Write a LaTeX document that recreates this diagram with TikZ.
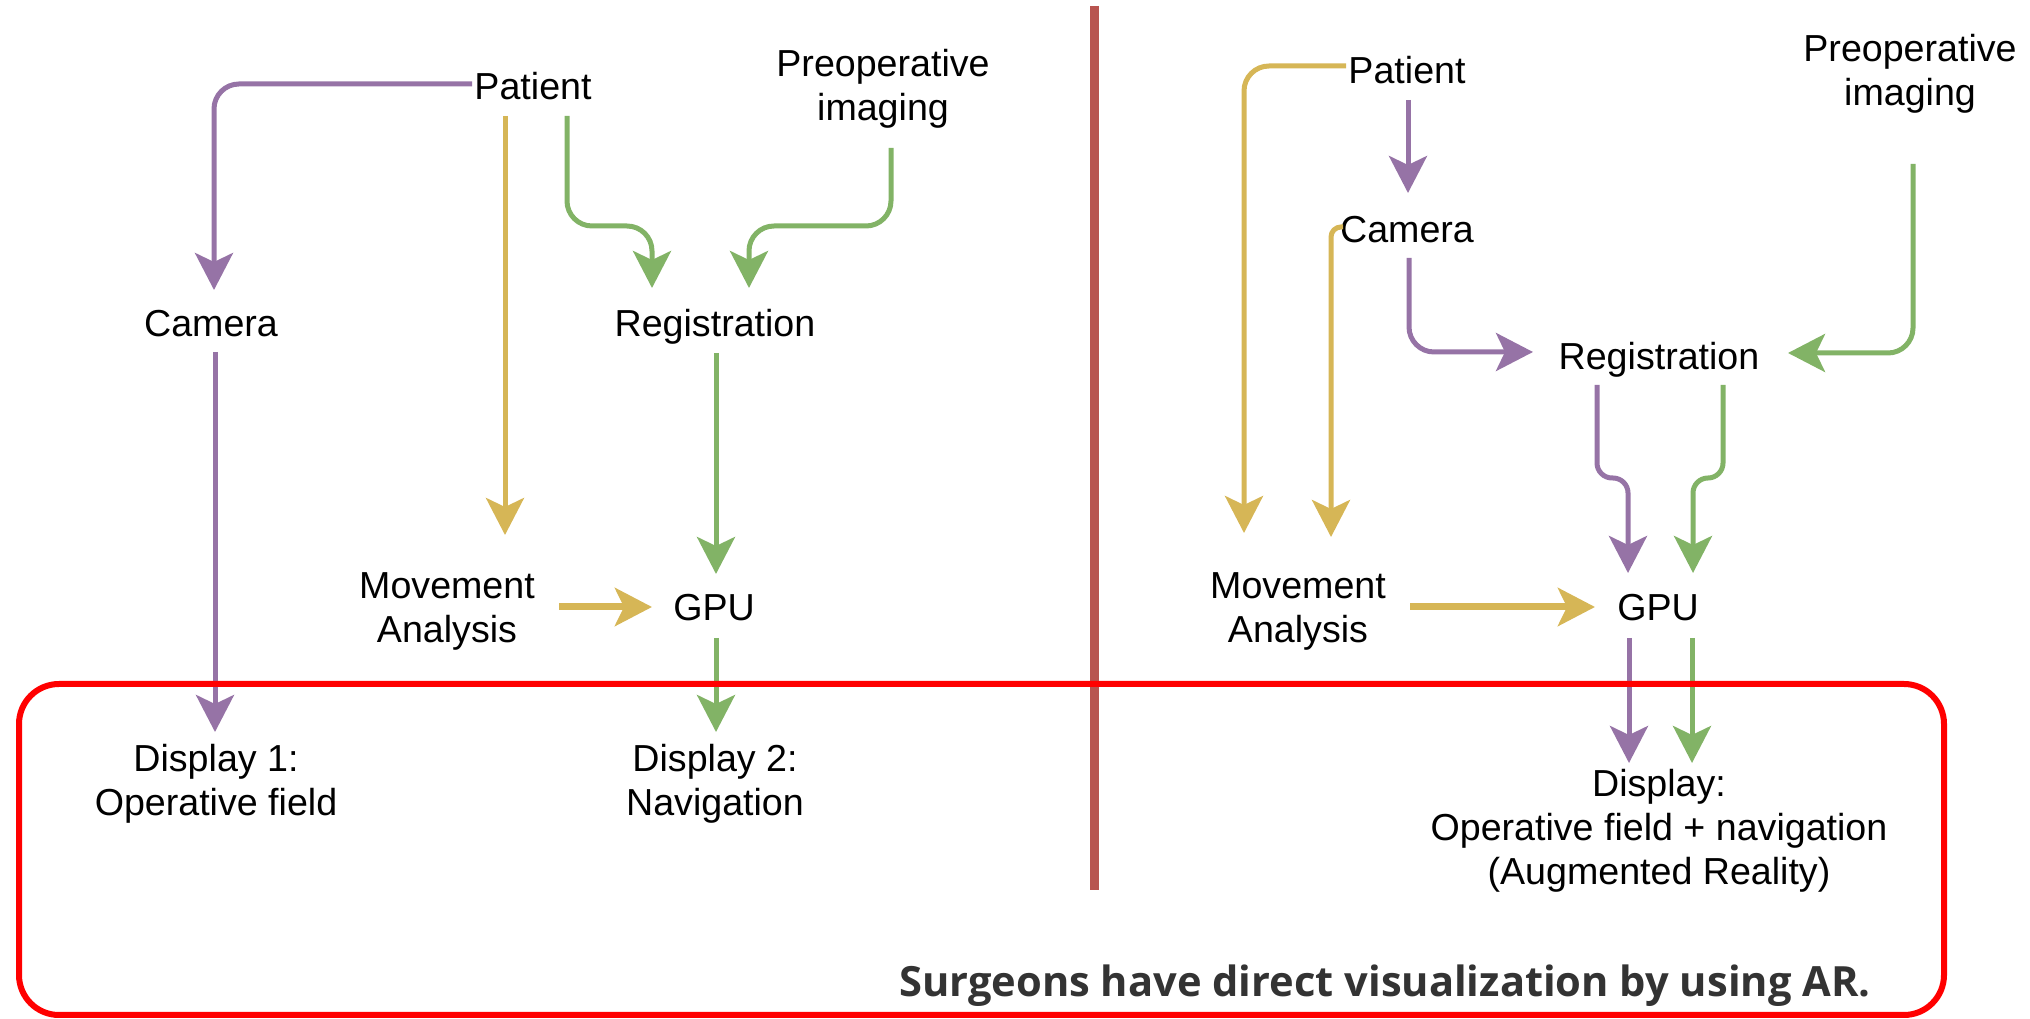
\documentclass[tikz,border=0pt]{standalone}
\usepackage{fontspec}
\setmainfont{Liberation Sans}
\newfontfamily\notefont{Open Sans}
\usetikzlibrary{arrows.meta,calc}
\definecolor{cpurple}{HTML}{9673A6}
\definecolor{cyellow}{HTML}{D6B656}
\definecolor{cgreen}{HTML}{82B366}
\definecolor{cbrown}{HTML}{B85450}
\definecolor{cred}{HTML}{FF0000}
\definecolor{cnote}{HTML}{333333}
\begin{document}
\begin{tikzpicture}[x=0.1mm,y=-0.1mm,
  lbl/.style={inner sep=0pt, outer sep=0pt, anchor=north, align=center,
    font=\fontsize{10.7}{12.5}\selectfont, execute at begin node={\rule{0pt}{8pt}}},
  conn/.style={line width=0.5mm, rounded corners=2.5mm,
    -{Stealth[length=3.7mm,width=3.8mm,inset=0.9mm]}},
  pu/.style={conn, color=cpurple},
  ye/.style={conn, color=cyellow},
  gr/.style={conn, color=cgreen},
  yethick/.style={ye, line width=0.7mm},
  divider/.style={line width=0.9mm, color=cbrown},
  frame/.style={line width=0.6mm, color=cred, rounded corners=4mm},
  note/.style={inner sep=0pt, anchor=base, text=cnote, font=\notefont\bfseries\fontsize{11.85}{14}\selectfont}]
\useasboundingbox (0,0) rectangle (2030,1019);

% ---------- left diagram ----------
\node[lbl] (patL) at (533,71) {Patient};
\node[lbl] (preL) at (883,49) {Preoperative\\imaging};
\node[lbl] (camL) at (211,308) {Camera};
\node[lbl] (regL) at (715,308) {Registration};
\node[lbl] (movL) at (447,573) {Movement\\Analysis};
\node[lbl] (gpuL) at (714,592) {GPU};
\node[lbl] (d1) at (216,744) {Display 1:\\Operative field};
\node[lbl] (d2) at (715,744) {Display 2:\\Navigation};

\draw[pu] ($(patL.north)+(-61,13)$) -| ($(camL.north)+(3,-18)$);
\draw[pu] ($(camL.north)+(4,44)$) -- ($(d1.north)+(-1,-12)$);
\draw[ye] ($(patL.north)+(-28,45)$) -- ($(movL.north)+(58,-38)$);
\draw[gr] ($(patL.north)+(34,45)$) |- ($(regL.north)+(-63,-82)$) -- ($(regL.north)+(-63,-20)$);
\draw[gr] ($(preL.north)+(8,99)$) |- ($(regL.north)+(34,-82)$) -- ($(regL.north)+(34,-20)$);
\draw[gr] ($(regL.north)+(1,45)$) -- ($(gpuL.north)+(2,-18)$);
\draw[yethick] ($(movL.north)+(112,34)$) -- ($(gpuL.north)+(-62,15)$);
\draw[gr] ($(gpuL.north)+(2,46)$) -- ($(d2.north)+(1,-12)$);

% ---------- right diagram ----------
\node[lbl] (patR) at (1407,55) {Patient};
\node[lbl] (preR) at (1910,34) {Preoperative\\imaging};
\node[lbl] (camR) at (1407,214) {Camera};
\node[lbl] (regR) at (1659,341) {Registration};
\node[lbl] (movR) at (1298,573) {Movement\\Analysis};
\node[lbl] (gpuR) at (1658,592) {GPU};
\node[lbl] (dR) at (1659,769) {Display:\\Operative field + navigation\\(Augmented Reality)};

\draw[ye] ($(patR.north)+(-61,11)$) -| ($(movR.north)+(-54,-40)$);
\draw[ye, rounded corners=1mm] ($(camR.north)+(-64,13)$) -| ($(movR.north)+(33,-36)$);
\draw[pu] ($(patR.north)+(1,45)$) -- ($(camR.north)+(1,-21)$);
\draw[pu] ($(camR.north)+(2,44)$) |- ($(regR.north)+(-126,11)$);
\draw[gr] ($(preR.north)+(3,130)$) |- ($(regR.north)+(129,12)$);
\draw[pu, rounded corners=1.5mm] ($(regR.north)+(-62,44)$) |- ($(gpuR.north)+(-30,-114)$) -- ($(gpuR.north)+(-30,-19)$);
\draw[gr, rounded corners=1.5mm] ($(regR.north)+(64,44)$) |- ($(gpuR.north)+(35,-114)$) -- ($(gpuR.north)+(35,-19)$);
\draw[yethick] ($(movR.north)+(112,34)$) -- ($(gpuR.north)+(-63,15)$);
\draw[pu] ($(gpuR.north)+(-29,46)$) -- ($(dR.north)+(-30,-6)$);
\draw[gr] ($(gpuR.north)+(34,46)$) -- ($(dR.north)+(33,-6)$);

% ---------- divider, frame, note ----------
\draw[divider] (1094.5,6) -- (1094.5,890);
\draw[frame] (19,684) rectangle (1944,1015);
\node[note] (noteAR) at (1385,997) {Surgeons have direct visualization by using AR.};
\end{tikzpicture}
\end{document}
